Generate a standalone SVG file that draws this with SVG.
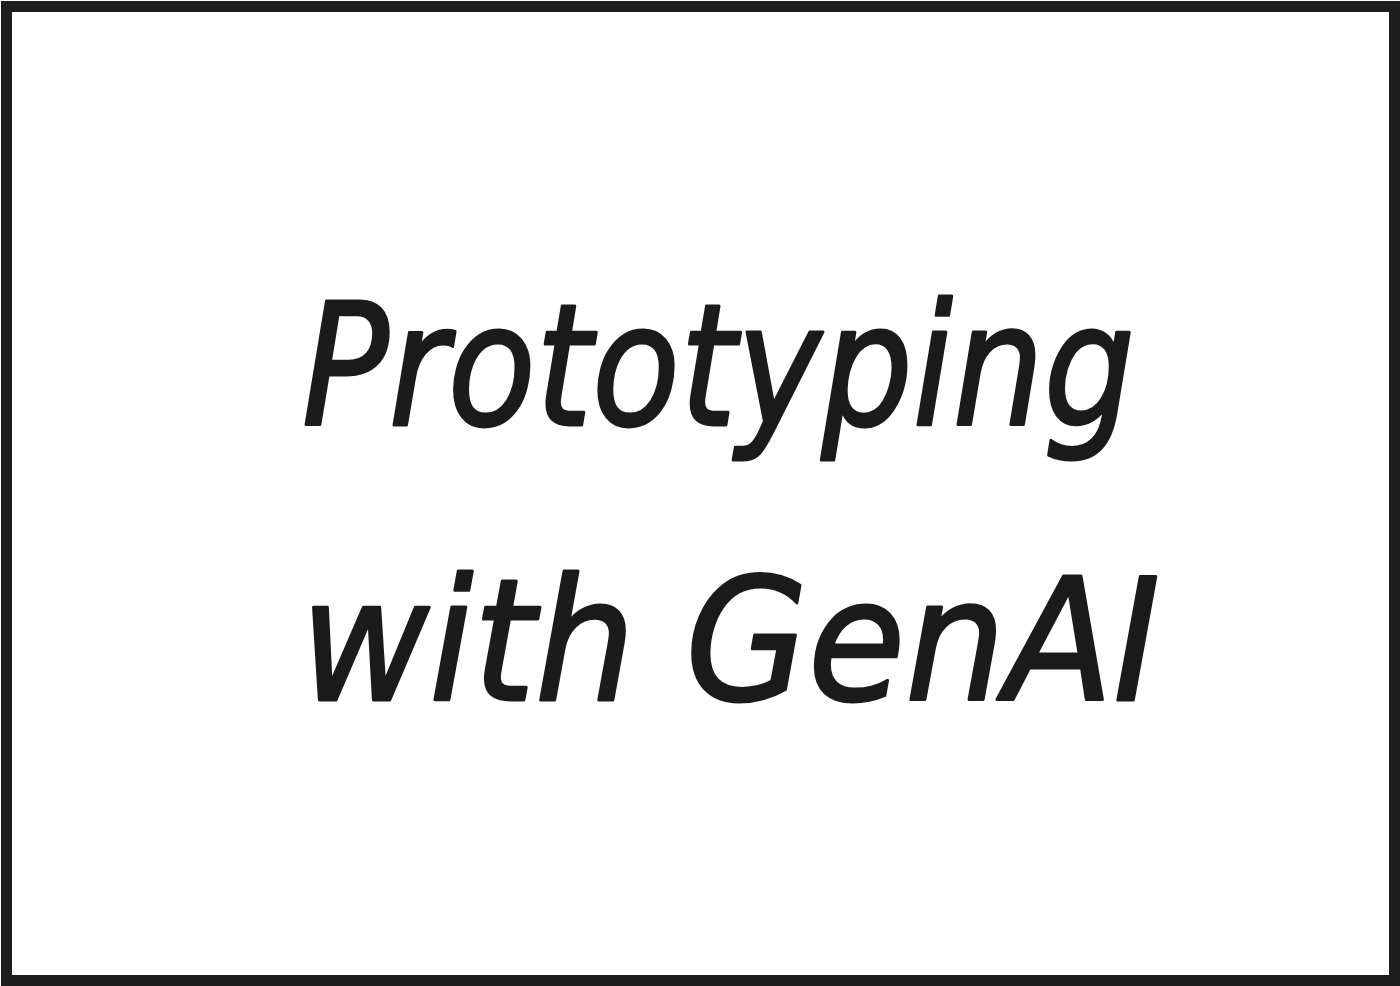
<svg xmlns="http://www.w3.org/2000/svg" width="1400" height="986" viewBox="0 0 1400 986">
<style>
.t{font-family:"DejaVu Sans","Liberation Sans",sans-serif;font-weight:normal;font-style:oblique;fill:#1b1b1b;font-size:170px;stroke:#1b1b1b;stroke-width:3;stroke-linejoin:round}
</style>
<rect x="0" y="0" width="1400" height="986" fill="#ffffff"/>
<rect x="6.5" y="6.5" width="1388" height="974" fill="none" stroke="#1e1e1e" stroke-width="11"/>
<text class="t" x="302" y="425" textLength="833" lengthAdjust="spacingAndGlyphs">Prototyping</text>
<text class="t" x="300" y="700" textLength="860" lengthAdjust="spacingAndGlyphs">with GenAI</text>
</svg>
